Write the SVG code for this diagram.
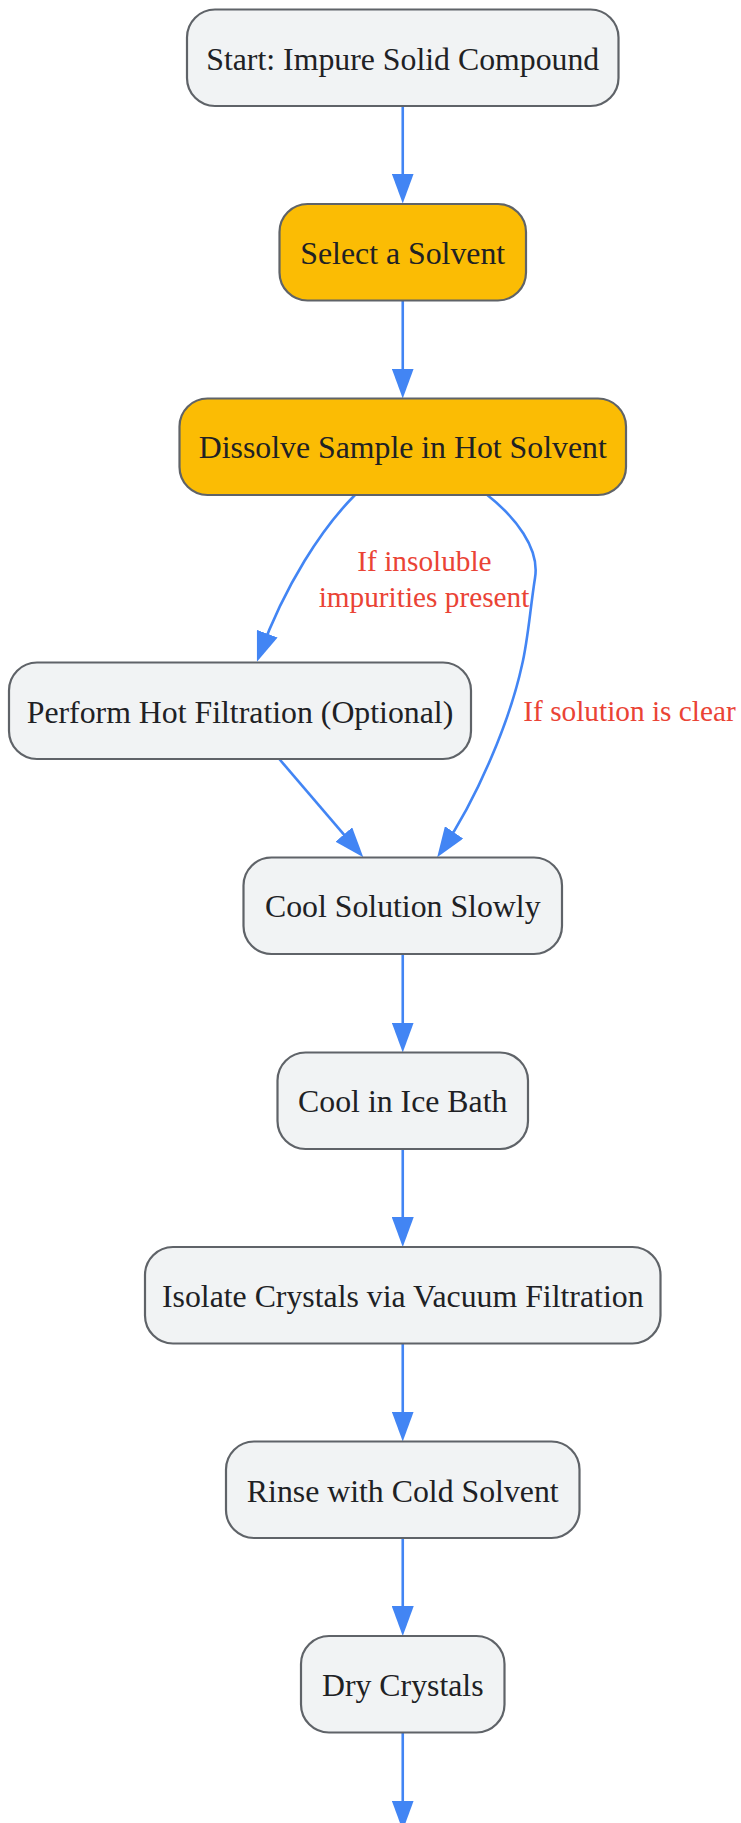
<svg xmlns="http://www.w3.org/2000/svg" width="741" height="1823" viewBox="0 0 741 1823">
<defs>
<style>
.node rect{fill:#f1f3f4;stroke:#5f6368;stroke-width:2.2}
.node.hl rect{fill:#fbbc04}
.node text{font-family:"Liberation Serif","Times New Roman",serif;font-size:31.8px;fill:#202124;text-anchor:middle}
.edge{fill:none;stroke:#4285f4;stroke-width:2.6;marker-end:url(#arr)}
.elabel{font-family:"Liberation Serif","Times New Roman",serif;font-size:29.3px;fill:#ea4335;text-anchor:middle}
</style>
<marker id="arr" viewBox="0 0 30 22" refX="22" refY="11" markerWidth="30" markerHeight="22" markerUnits="userSpaceOnUse" orient="auto">
<path d="M0,0 L30,11 L0,22 z" fill="#4285f4"/>
</marker>
</defs>
<rect width="741" height="1823" fill="#ffffff"/>
<g id="connectors">
<path class="edge" d="M402.75,106 L402.75,195.5"/>
<path class="edge" d="M402.75,300.5 L402.75,390.5"/>
<path class="edge" d="M355,495 C322,528 285,585 259.7,654.3"/>
<path class="edge" d="M487.3,495 C515,517 540,548 535,578 C530,610 528,640 522,665 C510,720 478,797 441.7,850.6"/>
<path class="edge" d="M279.3,759 L358.1,851.2"/>
<path class="edge" d="M402.75,954 L402.75,1044.5"/>
<path class="edge" d="M402.75,1149 L402.75,1239"/>
<path class="edge" d="M402.75,1343.5 L402.75,1433.5"/>
<path class="edge" d="M402.75,1538 L402.75,1628"/>
<path class="edge" d="M402.75,1732.5 L402.75,1822.5"/>
<text class="elabel" x="424.5" y="570.5">If insoluble</text>
<text class="elabel" x="424" y="607">impurities present</text>
<text class="elabel" x="629.5" y="721">If solution is clear</text>
</g>
<g id="n-start" class="node"><rect x="187" y="9.5" width="431.5" height="96.5" rx="28" ry="28"/><text x="402.75" y="69.5">Start: Impure Solid Compound</text></g>
<g id="n-select" class="node hl"><rect x="279.5" y="204" width="246.5" height="96.5" rx="28" ry="28"/><text x="402.75" y="264">Select a Solvent</text></g>
<g id="n-dissolve" class="node hl"><rect x="179.5" y="398.5" width="446.5" height="96.5" rx="28" ry="28"/><text x="402.75" y="458">Dissolve Sample in Hot Solvent</text></g>
<g id="n-hotfilt" class="node"><rect x="9" y="662.5" width="462" height="96.5" rx="28" ry="28"/><text x="240" y="722.5">Perform Hot Filtration (Optional)</text></g>
<g id="n-cool" class="node"><rect x="243.5" y="857.5" width="318.5" height="96.5" rx="28" ry="28"/><text x="402.75" y="917">Cool Solution Slowly</text></g>
<g id="n-ice" class="node"><rect x="277.5" y="1052.5" width="250.5" height="96.5" rx="28" ry="28"/><text x="402.75" y="1112">Cool in Ice Bath</text></g>
<g id="n-isolate" class="node"><rect x="145" y="1247" width="515.5" height="96.5" rx="28" ry="28"/><text x="402.75" y="1306.5">Isolate Crystals via Vacuum Filtration</text></g>
<g id="n-rinse" class="node"><rect x="226" y="1441.5" width="353.5" height="96.5" rx="28" ry="28"/><text x="402.75" y="1501.5">Rinse with Cold Solvent</text></g>
<g id="n-dry" class="node"><rect x="301" y="1636" width="203.5" height="96.5" rx="28" ry="28"/><text x="402.75" y="1696">Dry Crystals</text></g>
</svg>
